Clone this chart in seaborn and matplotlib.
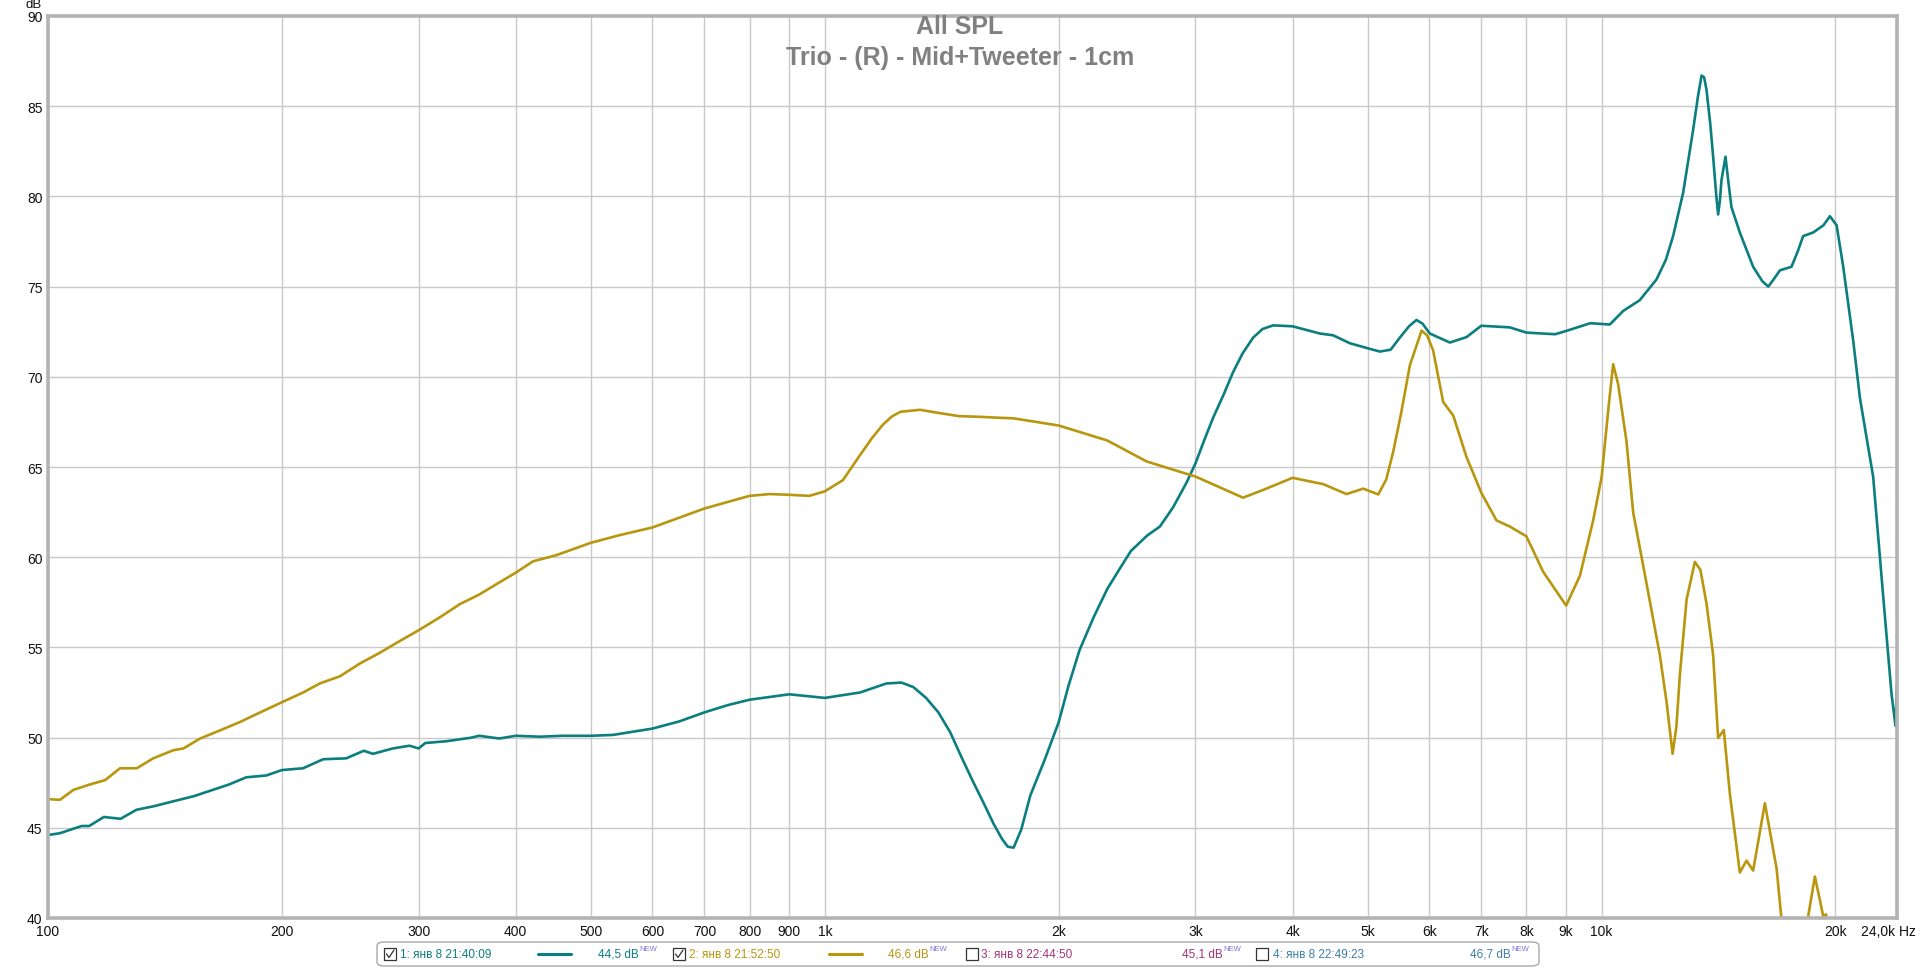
import pandas as pd
import seaborn as sns
import matplotlib.pyplot as plt
from matplotlib.patches import FancyBboxPatch, Rectangle
from matplotlib.transforms import ScaledTranslation

# === data ===
freq_1 = [100, 103.6, 110.5, 113, 118, 124, 130, 137, 145, 154, 163, 171, 180, 191, 200,
          213, 226, 242, 255, 262, 278, 292, 300, 306, 326, 351, 359, 381, 400, 429, 460,
          500, 534, 600, 650, 700, 750, 800, 900, 1000, 1110, 1200, 1255, 1300, 1350, 1400,
          1450, 1500, 1550, 1600, 1650, 1690, 1720, 1750, 1790, 1839, 1920, 2000, 2060,
          2128, 2220, 2310, 2400, 2478, 2600, 2700, 2809, 2923, 3000, 3080, 3162, 3260,
          3355, 3450, 3559, 3660, 3777, 4000, 4338, 4512, 4741, 5000, 5182, 5350, 5498,
          5650, 5776, 5880, 6008, 6377, 6700, 7000, 7617, 8000, 8715, 9000, 9666, 10245,
          10659, 11198, 11767, 12100, 12359, 12732, 13116, 13300, 13447, 13550, 13646,
          13800, 13916, 14050, 14124, 14200, 14265, 14435, 14560, 14694, 15062, 15668,
          16100, 16387, 16650, 16961, 17555, 17900, 18172, 18722, 19300, 19672, 20066,
          20464, 21079, 21500, 22364, 23034, 23617, 23896, 24000]
spl_1 = [44.6, 44.7, 45.1, 45.1, 45.6, 45.5, 46.0, 46.2, 46.47, 46.75, 47.1, 47.4, 47.8,
         47.9, 48.2, 48.3, 48.8, 48.85, 49.27, 49.1, 49.4, 49.55, 49.4, 49.7, 49.8, 50.0,
         50.1, 49.95, 50.1, 50.05, 50.1, 50.1, 50.15, 50.5, 50.9, 51.4, 51.8, 52.1, 52.4,
         52.2, 52.5, 53.0, 53.05, 52.8, 52.2, 51.4, 50.3, 48.9, 47.6, 46.4, 45.2, 44.4,
         43.95, 43.9, 44.9, 46.8, 48.8, 50.85, 52.9, 54.86, 56.7, 58.24, 59.4, 60.35, 61.2,
         61.7, 62.78, 64.15, 65.2, 66.5, 67.74, 69.0, 70.27, 71.3, 72.17, 72.65, 72.85,
         72.8, 72.4, 72.3, 71.86, 71.58, 71.4, 71.5, 72.17, 72.8, 73.15, 72.95, 72.4, 71.9,
         72.2, 72.83, 72.74, 72.45, 72.36, 72.54, 72.97, 72.9, 73.65, 74.25, 75.4, 76.5,
         77.8, 80.2, 83.7, 85.5, 86.7, 86.6, 85.9, 84.0, 82.2, 80.0, 79.0, 79.8, 80.9, 82.2,
         80.8, 79.4, 78.0, 76.1, 75.3, 75.0, 75.4, 75.9, 76.1, 77.0, 77.8, 78.0, 78.4, 78.9,
         78.4, 76.1, 72.0, 68.84, 64.45, 57.87, 52.39, 50.64, 53.0]

freq_2 = [100, 103.6, 107.8, 113.2, 118.4, 123.8, 130.1, 136.6, 145, 149.4, 157, 166.5,
          176.6, 185.5, 200, 213, 223.8, 237.6, 251.9, 267.3, 283.6, 300, 319, 339, 359,
          381, 400, 421, 451, 500, 544, 600, 700, 800, 849, 900, 955, 1000, 1055, 1110,
          1150, 1188, 1220, 1251, 1326, 1400, 1488, 1585, 1675, 1748, 2000, 2310, 2595,
          3000, 3455, 3667, 4000, 4381, 4694, 4933, 5158, 5280, 5391, 5520, 5665, 5864,
          5960, 6068, 6252, 6441, 6700, 7000, 7322, 7617, 8000, 8409, 9000, 9376, 9752,
          10000, 10200, 10347, 10500, 10764, 10980, 11424, 11883, 12124, 12341, 12480,
          12610, 12863, 13182, 13400, 13646, 13916, 14124, 14364, 14622, 15062, 15363,
          15668, 16223, 16796, 17045, 17500, 18100, 18446, 18815, 19095, 19283, 19450,
          19700]
spl_2 = [46.59, 46.55, 47.1, 47.4, 47.64, 48.3, 48.3, 48.85, 49.3, 49.4, 49.95, 50.4,
         50.86, 51.3, 51.96, 52.5, 53.0, 53.4, 54.1, 54.7, 55.35, 55.95, 56.65, 57.4,
         57.93, 58.6, 59.14, 59.77, 60.11, 60.8, 61.22, 61.65, 62.7, 63.4, 63.5, 63.46,
         63.4, 63.65, 64.27, 65.66, 66.6, 67.35, 67.8, 68.06, 68.17, 68.0, 67.82, 67.78,
         67.73, 67.7, 67.3, 66.47, 65.31, 64.47, 63.3, 63.73, 64.4, 64.05, 63.5, 63.8,
         63.48, 64.3, 65.84, 68.0, 70.65, 72.56, 72.3, 71.47, 68.6, 67.85, 65.55, 63.57,
         62.04, 61.7, 61.16, 59.19, 57.32, 58.97, 62.04, 64.45, 68.2, 70.7, 69.6, 66.43,
         62.48, 58.53, 54.58, 51.95, 49.1, 50.6, 53.49, 57.65, 59.74, 59.3, 57.43, 54.58,
         49.98, 50.42, 46.9, 42.52, 43.18, 42.63, 46.36, 42.74, 39.9, 37.0, 37.5, 40.1,
         42.3, 41.0, 40.1, 40.2, 37.5]

x_ticks = [100, 200, 300, 400, 500, 600, 700, 800, 900, 1000, 2000, 3000, 4000, 5000,
           6000, 7000, 8000, 9000, 10000, 20000, 24000]
x_labels = ["100", "200", "300", "400", "500", "600", "700", "800", "900", "1k", "2k",
            "3k", "4k", "5k", "6k", "7k", "8k", "9k", "10k", "20k", "24,0k Hz"]
y_ticks = [40, 45, 50, 55, 60, 65, 70, 75, 80, 85, 90]

legend_names = ["1: янв 8 21:40:09", "2: янв 8 21:52:50", "3: янв 8 22:44:50", "4: янв 8 22:49:23"]
legend_levels = ["44,5 dB", "46,6 dB", "45,1 dB", "46,7 dB"]
legend_checked = [True, True, False, False]

teal = "#0b7e7f"
gold = "#b8960e"
colors = [teal, gold, "#a3327a", "#3d7fa6"]

df = pd.concat([
    pd.DataFrame({"freq": freq_1, "spl": spl_1, "series": legend_names[0]}),
    pd.DataFrame({"freq": freq_2, "spl": spl_2, "series": legend_names[1]}),
])

# === plot ===
sns.set_theme(style="white")
plt.rcParams['font.family'] = ['Liberation Sans', 'DejaVu Sans']

fig = plt.figure(figsize=(19.2, 9.7), dpi=100)
ax = fig.add_axes([48 / 1920, 51 / 970, 1849 / 1920, 902 / 970])
ax.set_xscale("log")

sns.lineplot(data=df, x="freq", y="spl", hue="series", estimator=None, sort=False,
             palette={legend_names[0]: teal, legend_names[1]: gold},
             linewidth=1.9, legend=False, ax=ax)

ax.set_xlim(100, 24000)
ax.set_ylim(40, 90)
ax.set_xticks(x_ticks)
ax.set_xticklabels(x_labels)
ax.xaxis.set_minor_locator(plt.NullLocator())
ax.set_yticks(y_ticks)
ax.tick_params(axis="both", length=0, labelsize=10, colors="#111111")
ax.tick_params(axis="x", pad=4)
ax.tick_params(axis="y", pad=4)
ax.set_xlabel("")
ax.set_ylabel("")
ax.grid(True, color="#c9c9c9", linewidth=1.0)
for sp in ax.spines.values():
    sp.set_color("#b3b3b3")
    sp.set_linewidth(2.6)

# last x label sits a little to the left so it stays inside the picture
last = ax.get_xticklabels()[-1]
last.set_transform(last.get_transform() + ScaledTranslation(-9 / 100, 0, fig.dpi_scale_trans))

fig.text(34 / 1920, 1 - 5 / 970, "dB", ha="center", va="center", fontsize=9.5, color="#111111")

fig.text(0.5, 1 - 27 / 970, "All SPL", ha="center", va="center",
         fontsize=18, fontweight="bold", color="#808080")
fig.text(0.5, 1 - 58 / 970, "Trio - (R) - Mid+Tweeter - 1cm", ha="center", va="center",
         fontsize=18, fontweight="bold", color="#808080")

# === legend strip ===
W, H = 1920, 970
box = FancyBboxPatch((377 / W, 1 - 967 / H), 1162 / W, 24 / H,
                     boxstyle="round,pad=0,rounding_size=0.004",
                     transform=fig.transFigure, facecolor="white",
                     edgecolor="#a8a8a8", linewidth=1.0)
fig.patches.append(box)

yc = 1 - 955 / H
check_x = [384, 673, 966, 1256]
name_x = [400, 689, 981, 1273]
line_x = [(538, 571), (829, 862), None, None]
level_x = [598, 888, 1182, 1470]
level_texts = []
for i in range(4):
    fig.patches.append(Rectangle((check_x[i] / W, 1 - 961 / H), 12 / W, 12 / H,
                                 transform=fig.transFigure, facecolor="white",
                                 edgecolor="#333333", linewidth=0.9))
    if legend_checked[i]:
        cx = check_x[i]
        fig.lines.append(plt.Line2D([(cx + 2.5) / W, (cx + 5) / W, (cx + 10) / W],
                                    [1 - 955 / H, 1 - 958.5 / H, 1 - 951 / H],
                                    transform=fig.transFigure, color="#333333", linewidth=0.9))
    fig.text(name_x[i] / W, yc, legend_names[i], ha="left", va="center",
             fontsize=8.5, color=colors[i])
    if line_x[i] is not None:
        fig.lines.append(plt.Line2D([line_x[i][0] / W, line_x[i][1] / W], [yc, yc],
                                    transform=fig.transFigure, color=colors[i], linewidth=2.2))
    level_texts.append(fig.text(level_x[i] / W, yc, legend_levels[i], ha="left", va="center",
                                fontsize=8.5, color=colors[i]))

fig.canvas.draw()
renderer = fig.canvas.get_renderer()
for t in level_texts:
    x1 = t.get_window_extent(renderer).x1
    fig.text((x1 + 1) / W, 1 - 950 / H, "NEW", ha="left", va="center",
             fontsize=5.5, color="#7b6fe0")

fig.savefig("out.png", dpi=100)
